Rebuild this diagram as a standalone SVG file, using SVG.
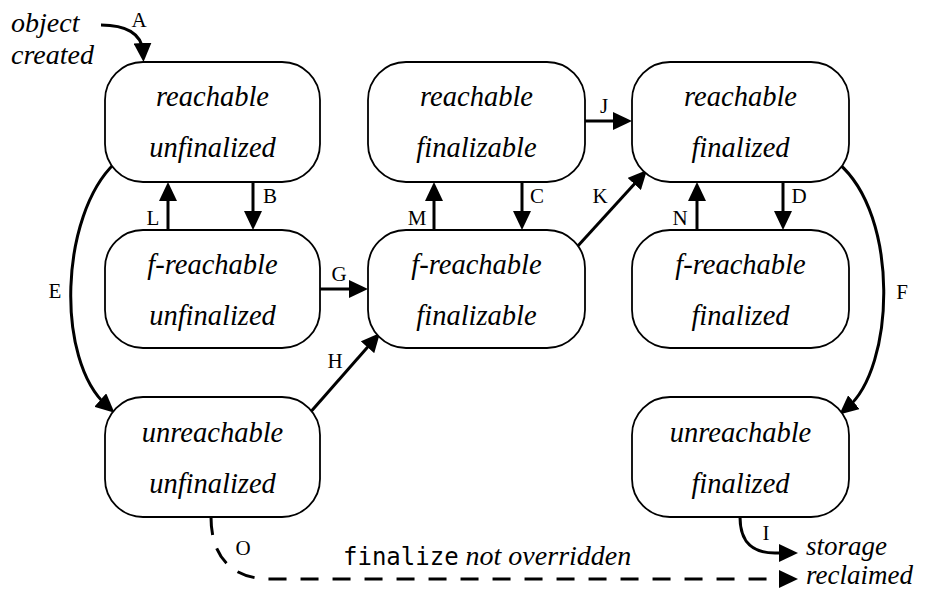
<svg xmlns="http://www.w3.org/2000/svg" width="934" height="589" viewBox="0 0 934 589">
<defs>
<marker id="ah" markerUnits="userSpaceOnUse" markerWidth="19" markerHeight="18" viewBox="0 0 19 18" refX="9" refY="9" orient="auto">
<path d="M0,0 L19,9 L0,18 Z" fill="#000"/>
</marker>
<style>
.box{fill:#fff;stroke:#000;stroke-width:1.8}
.st{font-family:"Liberation Serif","Times New Roman",serif;font-style:italic;font-size:28.5px;text-anchor:middle;fill:#000}
.lb{font-family:"Liberation Serif","Times New Roman",serif;font-size:21px;text-anchor:middle;fill:#000}
.it{font-family:"Liberation Serif","Times New Roman",serif;font-style:italic;font-size:28px;fill:#000}
.it2{font-family:"Liberation Serif","Times New Roman",serif;font-style:italic;font-size:27px;fill:#000}
.mono{font-family:"DejaVu Sans Mono","Liberation Mono",monospace;font-style:normal;font-size:24px}
.ar{fill:none;stroke:#000;stroke-width:3;marker-end:url(#ah)}
.dash{stroke-dasharray:18 14}
</style>
</defs>
<rect width="934" height="589" fill="#fff"/>

<g id="connectors">
<path id="A" class="ar" d="M101 25 C125 25 142 33 143 52"/>
<path id="B" class="ar" d="M253 182 L253 220"/>
<path id="L" class="ar" d="M168 230 L168 192"/>
<path id="C" class="ar" d="M522 182 L522 220"/>
<path id="M" class="ar" d="M434 230 L434 192"/>
<path id="D" class="ar" d="M783 182 L783 220"/>
<path id="N" class="ar" d="M697 230 L697 192"/>
<path id="J" class="ar" d="M585 121 L622 121"/>
<path id="G" class="ar" d="M320 289 L358 289"/>
<path id="K" class="ar" d="M576 248 L640.3 177.4"/>
<path id="H" class="ar" d="M308 415 L373.4 340.5"/>
<path id="E" class="ar" d="M115 163 C60 215 55 360 107 406"/>
<path id="F" class="ar" d="M838 163 C900 215 895 368 847 408"/>
<path id="O" class="ar dash" d="M211 517 C211 555 230 579 270 579 L788 579"/>
<path id="I" class="ar" d="M740 517 C740 545 755 553 775 553 L788 553"/>
</g>

<g id="n1"><rect class="box" x="105" y="62" width="215" height="120" rx="38"/><text class="st" x="212.5" y="106">reachable</text><text class="st" x="212.5" y="157">unfinalized</text></g>
<g id="n2"><rect class="box" x="368" y="62" width="217" height="120" rx="38"/><text class="st" x="476.5" y="106">reachable</text><text class="st" x="476.5" y="157">finalizable</text></g>
<g id="n3"><rect class="box" x="632" y="62" width="217" height="120" rx="38"/><text class="st" x="740.5" y="106">reachable</text><text class="st" x="740.5" y="157">finalized</text></g>
<g id="n4"><rect class="box" x="105" y="230" width="215" height="118" rx="38"/><text class="st" x="212.5" y="274">f-reachable</text><text class="st" x="212.5" y="325">unfinalized</text></g>
<g id="n5"><rect class="box" x="368" y="230" width="217" height="118" rx="38"/><text class="st" x="476.5" y="274">f-reachable</text><text class="st" x="476.5" y="325">finalizable</text></g>
<g id="n6"><rect class="box" x="632" y="230" width="217" height="118" rx="38"/><text class="st" x="740.5" y="274">f-reachable</text><text class="st" x="740.5" y="325">finalized</text></g>
<g id="n7"><rect class="box" x="105" y="397" width="215" height="120" rx="38"/><text class="st" x="212.5" y="442">unreachable</text><text class="st" x="212.5" y="493">unfinalized</text></g>
<g id="n8"><rect class="box" x="632" y="397" width="217" height="120" rx="38"/><text class="st" x="740.5" y="442">unreachable</text><text class="st" x="740.5" y="493">finalized</text></g>

<g id="start"><text class="it" x="11" y="32">object</text><text class="it" x="11" y="64">created</text></g>
<g id="end"><text class="it2" x="806" y="555">storage</text><text class="it2" x="806" y="584">reclaimed</text></g>

<g id="labels">
<text class="lb" x="139" y="27">A</text>
<text class="lb" x="270" y="203">B</text>
<text class="lb" x="153" y="225">L</text>
<text class="lb" x="537" y="203">C</text>
<text class="lb" x="417" y="225">M</text>
<text class="lb" x="799" y="203">D</text>
<text class="lb" x="680" y="225">N</text>
<text class="lb" x="604" y="113">J</text>
<text class="lb" x="600" y="203">K</text>
<text class="lb" x="339" y="281">G</text>
<text class="lb" x="335" y="368">H</text>
<text class="lb" x="55" y="298">E</text>
<text class="lb" x="902" y="299">F</text>
<text class="lb" x="243" y="555">O</text>
<text class="lb" x="766" y="540">I</text>
<text class="it" x="343" y="565"><tspan class="mono">finalize</tspan> not overridden</text>
</g>
</svg>
